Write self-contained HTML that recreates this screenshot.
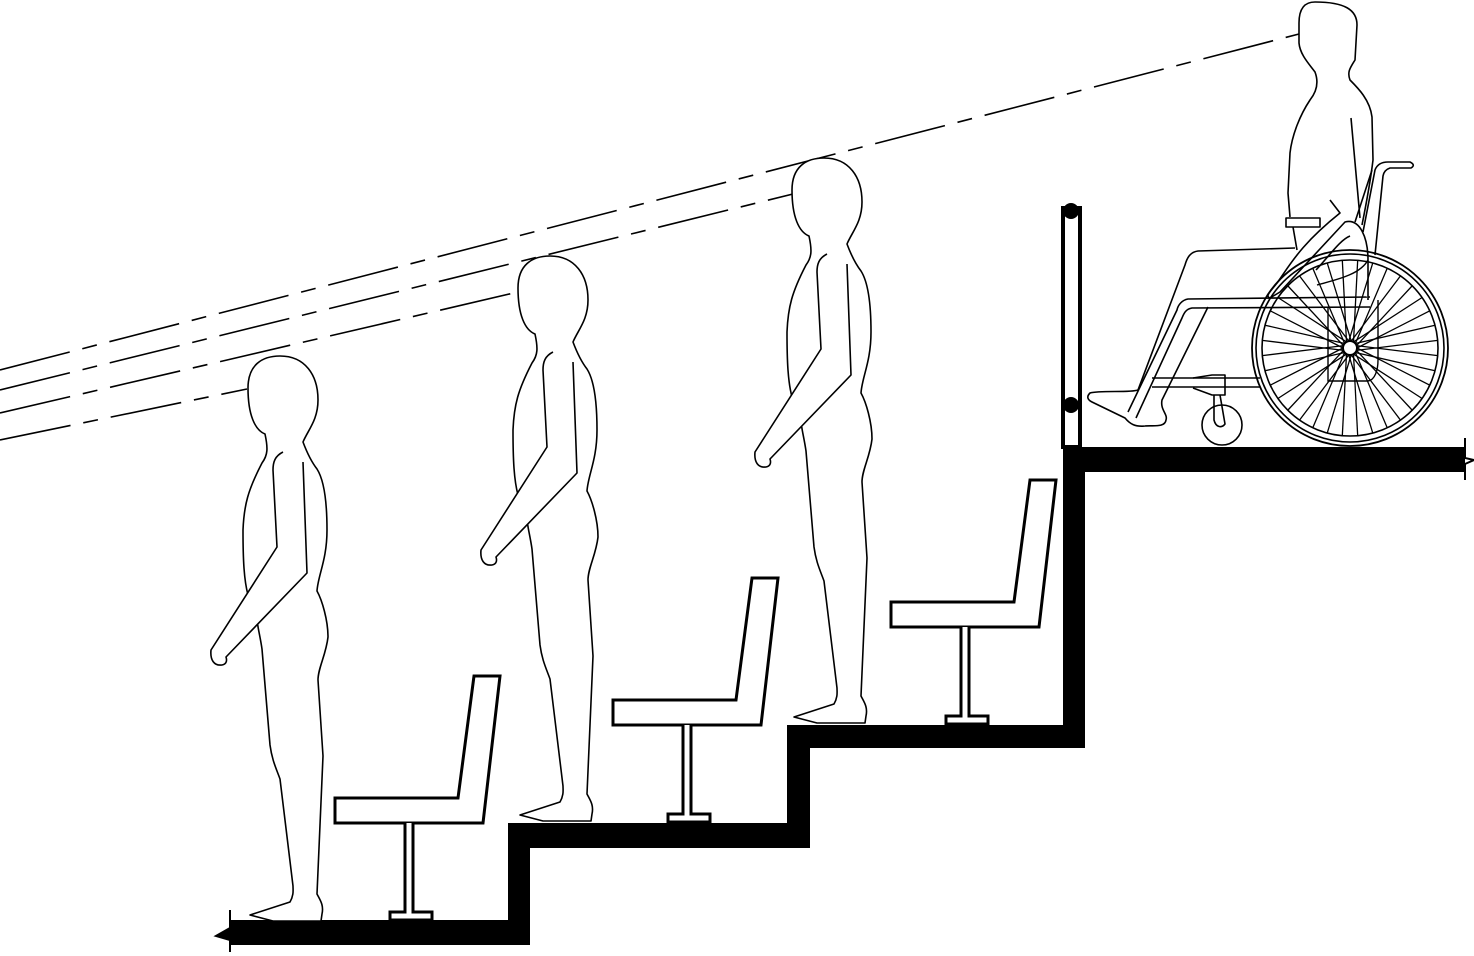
<!DOCTYPE html>
<html><head><meta charset="utf-8"><style>
html,body{margin:0;padding:0;background:#fff;}
svg{display:block;}
</style></head><body>
<svg width="1474" height="956" viewBox="0 0 1474 956" xmlns="http://www.w3.org/2000/svg">
<defs>
<g id="person" fill="none" stroke="#000" stroke-width="1.6" stroke-linejoin="round">
  <path fill="#fff" d="M303 442 C306 450 310 460 317 469 C324 480 327 500 327 530 C327 560 318 575 317 591 C322 600 328 620 328 637 C326 655 318 668 318 680 L323 756 L317 894 C320 900 324 905 322 914 L321 921 L273 921 L250 915 L290 902 C294 895 293 890 293 886 L280 779 C276 768 272 760 270 745 L262 649 C260 635 257 625 257 618 L248 595 C244 580 243 560 243 530 C244 505 248 490 262 463 C268 455 268 448 265 434 C255 430 248 415 248 388 C248 365 262 356 280 356 C305 356 318 375 318 400 C318 420 308 430 303 442 Z"/>
  <path fill="#fff" d="M283 452 C275 456 273 462 273 470 L277 547 L211 650 C210 660 214 666 222 665 C227 664 227 660 226 657 L307 573 L303 462"/>
</g>
<g id="chair" fill="#fff" stroke="#000" stroke-width="3" stroke-linejoin="miter">
  <path d="M335 798 L458 798 L474 676 L500 676 L483 823 L335 823 Z"/>
  <path d="M405 823 L405 912 L390 912 L390 920 L432 920 L432 912 L413 912 L413 823"/>
</g>
<g id="spk" stroke="#000" stroke-width="1.3">
  <line x1="1357" y1="348" x2="1429.8" y2="385.2"/>
  <line x1="1357" y1="348" x2="1429.8" y2="310.8"/>
</g>
</defs>

<!-- sightlines -->
<g stroke="#000" stroke-width="1.6" stroke-dasharray="72 13 15 13" fill="none">
  <line x1="0" y1="370" x2="1299" y2="34"/>
  <line x1="0" y1="390" x2="797" y2="193"/>
  <line x1="0" y1="413" x2="518" y2="292"/>
  <line x1="0" y1="440" x2="247" y2="389"/>
</g>

<!-- stairs -->
<path fill="#000" d="M230 920 L508 920 L508 823 L787 823 L787 725 L1063 725 L1063 447 L1465 447 L1465 472 L1085 472 L1085 748 L810 748 L810 848 L530 848 L530 945 L230 945 Z"/>
<path fill="#000" stroke="#000" stroke-width="2" d="M230 910 L230 928 L216 936 L230 940 L230 952"/>
<path fill="none" stroke="#000" stroke-width="2" d="M1465 438 L1465 458 L1474 460 L1465 464 L1465 480"/>

<!-- chairs -->
<use href="#chair"/>
<use href="#chair" transform="translate(278,-98)"/>
<use href="#chair" transform="translate(556,-196)"/>

<!-- people -->
<use href="#person"/>
<use href="#person" transform="translate(270,-100)"/>
<use href="#person" transform="translate(544,-198)"/>

<!-- rail -->
<rect x="1063" y="208" width="17" height="239" fill="#fff" stroke="#000" stroke-width="4"/>
<circle cx="1071" cy="211" r="8" fill="#000"/>
<circle cx="1071" cy="405" r="8" fill="#000"/>

<!-- wheelchair & person -->
<g fill="none" stroke="#000" stroke-width="1.6" stroke-linejoin="round">
  <path d="M1299 23 C1299 8 1305 2 1315 2 C1345 2 1357 10 1357 25 L1355 60 C1350 68 1347 72 1350 80 C1358 88 1370 100 1372 117 L1373 160 C1370 185 1366 205 1362 225"/>
  <path d="M1299 23 L1299 43 C1300 55 1310 65 1315 72 C1318 80 1318 90 1310 100 C1300 115 1292 135 1290 153 L1288 193 L1290 217"/>
  <path d="M1351 118 L1360 218"/>
  <rect x="1286" y="218" width="34" height="9" fill="#fff"/>
  <path d="M1293 227 L1297 250"/>
  <path d="M1295 248 L1198 251 C1190 252 1187 258 1185 265 L1138 390 C1130 393 1100 390 1090 393 C1086 397 1088 400 1092 402 L1125 418 C1130 424 1135 427 1145 426 C1152 425 1165 428 1166 420 C1168 414 1160 410 1162 400 L1208 307"/>
  <path d="M1370 297 L1188 299 C1182 300 1178 305 1177 310 L1128 412"/>
  <path d="M1370 307 L1192 308 C1186 309 1184 313 1182 318 L1136 418"/>
  <path d="M1152 378 L1260 378 M1152 387 L1260 387"/>
  <path d="M1193 378 L1212 375 L1225 375 L1225 395 L1212 395 L1193 388"/>
  <path d="M1214 395 L1214 420 C1216 428 1222 428 1225 424 L1220 395"/>
  <circle cx="1222" cy="425" r="20"/>
  <path d="M1363 232 L1375 170 Q1378 162 1388 162 L1410 162 Q1416 165 1411 168 L1390 168 Q1384 170 1383 176 L1375 255"/>
  <path d="M1355 222 L1372 170"/>
  <path fill="#fff" d="M1330 200 L1340 213 C1300 245 1290 265 1277 283 C1270 292 1265 296 1270 298 L1280 292 L1345 222 C1360 218 1368 238 1368 260 L1368 300"/>
  <path d="M1350 236 C1340 240 1330 255 1316 270"/>
  <circle cx="1350" cy="348" r="98" stroke-width="1.8"/>
  <circle cx="1350" cy="348" r="94"/>
  <circle cx="1350" cy="348" r="88"/>
</g>
<g>
  <use href="#spk" transform="rotate(0 1350 348)"/>
  <use href="#spk" transform="rotate(20 1350 348)"/>
  <use href="#spk" transform="rotate(40 1350 348)"/>
  <use href="#spk" transform="rotate(60 1350 348)"/>
  <use href="#spk" transform="rotate(80 1350 348)"/>
  <use href="#spk" transform="rotate(100 1350 348)"/>
  <use href="#spk" transform="rotate(120 1350 348)"/>
  <use href="#spk" transform="rotate(140 1350 348)"/>
  <use href="#spk" transform="rotate(160 1350 348)"/>
  <use href="#spk" transform="rotate(180 1350 348)"/>
  <use href="#spk" transform="rotate(200 1350 348)"/>
  <use href="#spk" transform="rotate(220 1350 348)"/>
  <use href="#spk" transform="rotate(240 1350 348)"/>
  <use href="#spk" transform="rotate(260 1350 348)"/>
  <use href="#spk" transform="rotate(280 1350 348)"/>
  <use href="#spk" transform="rotate(300 1350 348)"/>
  <use href="#spk" transform="rotate(320 1350 348)"/>
  <use href="#spk" transform="rotate(340 1350 348)"/>
</g>
<g fill="none" stroke="#000" stroke-width="1.5">
  <circle cx="1350" cy="348" r="7" fill="#fff" stroke-width="2"/>
  <path d="M1328 307 L1328 381 L1368 381 C1375 380 1378 370 1378 360 L1378 300" stroke-width="1.4"/>
  <path d="M1317 285 C1335 280 1360 275 1368 260" stroke-width="1.4"/>
</g>
</svg>
</body></html>
